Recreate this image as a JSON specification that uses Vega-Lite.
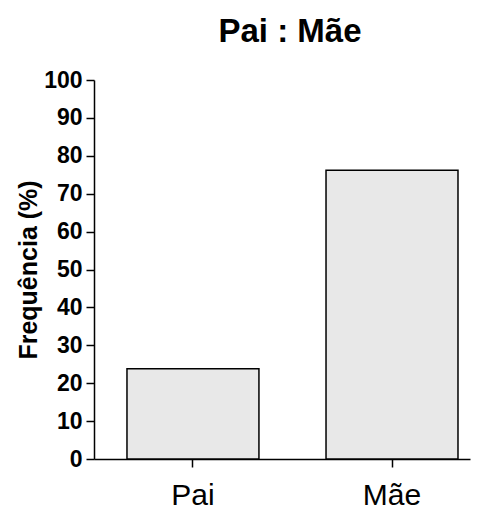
{
  "$schema": "https://vega.github.io/schema/vega-lite/v6.json",
  "autosize": "none",
  "width": 376,
  "height": 379,
  "padding": {"left": 94, "top": 80, "right": 10, "bottom": 53},
  "background": "white",
  "config": {
    "font": "Liberation Sans",
    "view": {"stroke": null}
  },
  "title": {
    "text": "Pai : Mãe",
    "fontSize": 33,
    "fontWeight": "bold",
    "color": "black",
    "offset": 20,
    "dx": 8,
    "anchor": "middle"
  },
  "data": {
    "values": [
      {"grupo": "Pai", "frequencia": 23.8},
      {"grupo": "Mãe", "frequencia": 76.2}
    ]
  },
  "mark": {"type": "bar", "fill": "#e8e8e8", "stroke": "black", "strokeWidth": 1.5},
  "encoding": {
    "x": {
      "field": "grupo",
      "type": "nominal",
      "sort": ["Pai", "Mãe"],
      "scale": {"paddingInner": 0.337, "paddingOuter": 0.113, "align": 0.733},
      "axis": {
        "title": null,
        "labelAngle": 0,
        "labelFontSize": 30,
        "labelColor": "black",
        "labelPadding": 13,
        "tickSize": 8,
        "tickColor": "black",
        "tickWidth": 1.5,
        "domainColor": "black",
        "domainWidth": 1.5
      }
    },
    "y": {
      "field": "frequencia",
      "type": "quantitative",
      "scale": {"domain": [0, 100], "nice": false},
      "axis": {
        "title": "Frequência (%)",
        "titleFontSize": 25,
        "titleFontWeight": "bold",
        "titleColor": "black",
        "titlePadding": 2,
        "values": [0, 10, 20, 30, 40, 50, 60, 70, 80, 90, 100],
        "labelFontSize": 23,
        "labelFontWeight": "bold",
        "labelColor": "black",
        "labelPadding": 4,
        "tickSize": 8,
        "tickColor": "black",
        "tickWidth": 1.5,
        "domainColor": "black",
        "domainWidth": 1.5,
        "grid": false
      }
    }
  }
}
